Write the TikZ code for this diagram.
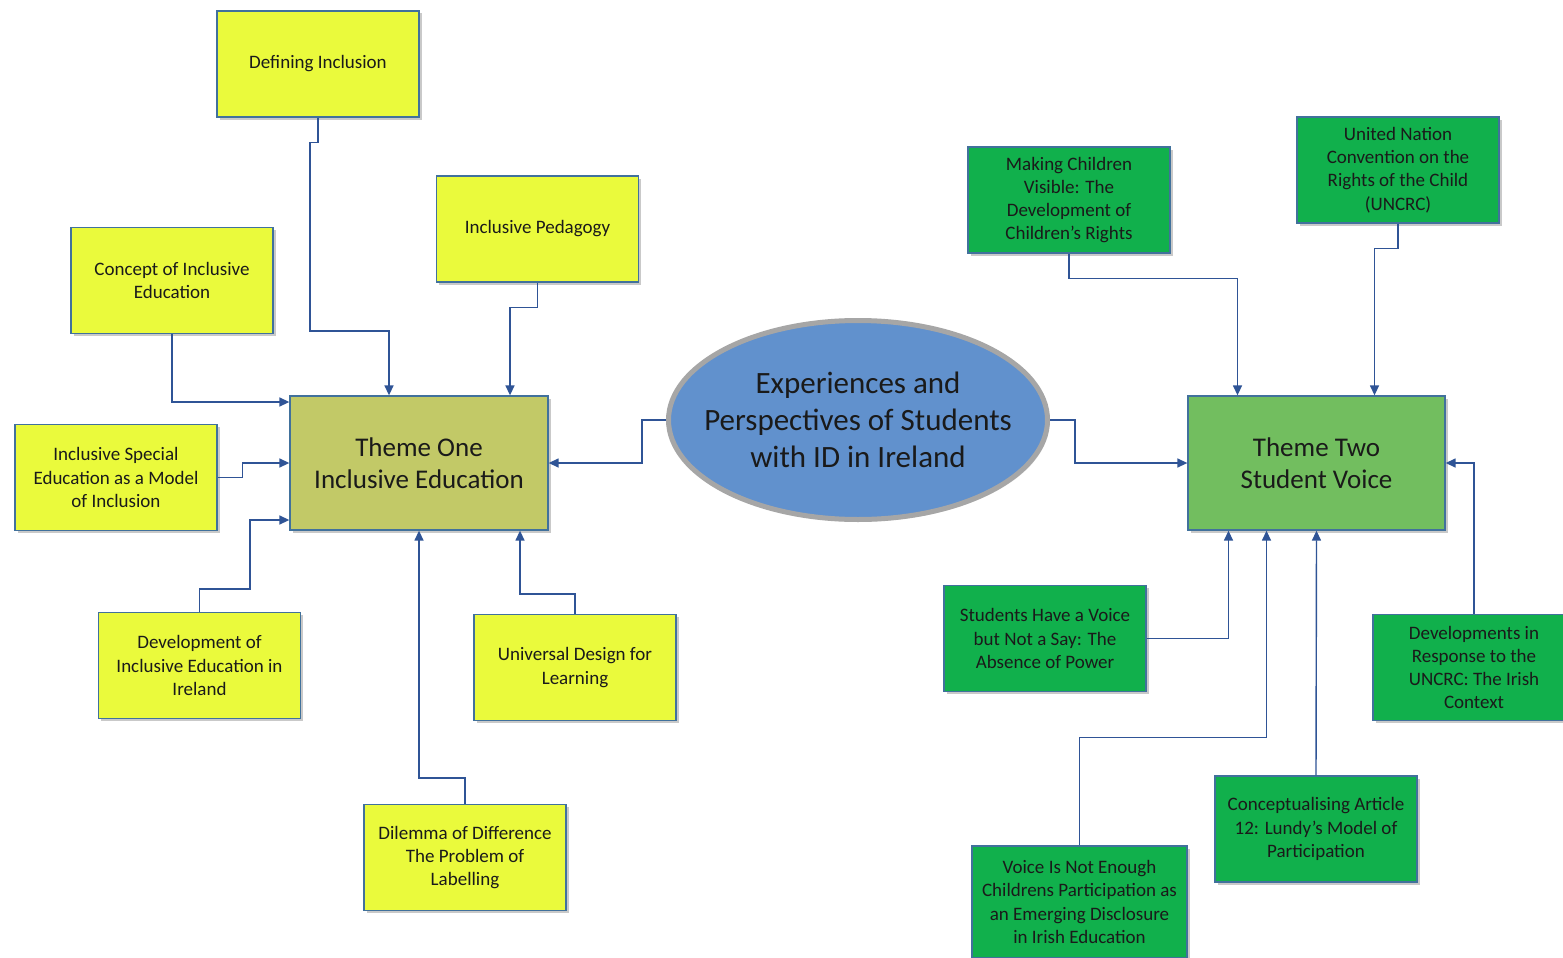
\documentclass[tikz,border=0pt]{standalone}
\usepackage{fontspec}
\setmainfont{Carlito}
\usetikzlibrary{arrows.meta,shadows,calc,shapes.geometric}

\definecolor{boxyellow}{HTML}{EAFA3C}
\definecolor{themeolive}{HTML}{C2C967}
\definecolor{themegreen}{HTML}{72BE5F}
\definecolor{boxgreen}{HTML}{11B04C}
\definecolor{ovalblue}{HTML}{6191CD}
\definecolor{ovalrim}{HTML}{A6A6A6}
\definecolor{rimblue}{HTML}{41719C}
\definecolor{linkblue}{HTML}{2F5496}
\definecolor{ink}{HTML}{1A1A1A}

\tikzset{
  base/.style={rectangle, draw=rimblue, line width=1.3pt, text=ink, align=center,
    drop shadow={shadow xshift=2.5pt, shadow yshift=-2.5pt, opacity=0.35, fill=black!60}},
  topic/.style={base, fill=boxyellow, minimum width=202pt, minimum height=106pt,
    font=\fontsize{19}{23.3}\selectfont},
  gtopic/.style={base, fill=boxgreen, minimum width=202pt, minimum height=106pt,
    font=\fontsize{19}{23.3}\selectfont},
  themebox/.style={base, minimum width=258pt, minimum height=134pt,
    font=\fontsize{27}{32}\selectfont},
  link/.style={draw=linkblue, line width=1.4pt, -{Triangle[length=10pt,width=9pt]}},
}

\begin{document}
\begin{tikzpicture}[x=1pt,y=-1pt]
\useasboundingbox (0,0) rectangle (1563,958);
\fill[white] (0,0) rectangle (1563,958);

% central topic (negative x-sep keeps the oval at its set size)
\node[ellipse, draw=ovalrim, line width=5pt, fill=ovalblue, minimum width=379pt,
  minimum height=199pt, inner xsep=-30pt, inner ysep=0pt, text=ink, align=center,
  font=\fontsize{31}{37}\selectfont,
  drop shadow={shadow xshift=2pt, shadow yshift=-2pt, opacity=0.25}]
  (ell) at (858,420) {Experiences and\\Perspectives of Students\\with ID in Ireland};

% themes
\node[themebox, fill=themeolive] (t1) at (419,463) {Theme One\\Inclusive Education};
\node[themebox, fill=themegreen, minimum width=257pt] (t2) at (1316.5,463) {Theme Two\\Student Voice};

% theme one sub-topics
\node[topic] (di) at (318,64) {Defining Inclusion};
\node[topic] (ip) at (537.5,229) {Inclusive Pedagogy};
\node[topic] (ce) at (172,280.5) {Concept of Inclusive\\Education};
\node[topic] (is) at (116,477.5) {Inclusive Special\\Education as a Model\\of Inclusion};
\node[topic] (dv) at (199.5,665.5) {Development of\\Inclusive Education in\\Ireland};
\node[topic] (ud) at (575,667.5) {Universal Design for\\Learning};
\node[topic] (dd) at (465,857.5) {Dilemma of Difference\\The Problem of\\Labelling};

% theme two sub-topics
\node[gtopic] (mc) at (1069,200) {Making Children\\Visible: The\\Development of\\Children’s Rights};
\node[gtopic] (un) at (1398,170) {United Nation\\Convention on the\\Rights of the Child\\(UNCRC)};
\node[gtopic] (sv) at (1045,638.5) {Students Have a Voice\\but Not a Say: The\\Absence of Power};
\node[gtopic] (dr) at (1474,667.5) {Developments in\\Response to the\\UNCRC: The Irish\\Context};
\node[gtopic] (ca) at (1316,829) {Conceptualising Article\\12: Lundy’s Model of\\Participation};
\node[gtopic, minimum width=215pt, minimum height=112pt] (vn) at (1079.5,902)
  {Voice Is Not Enough\\Childrens Participation as\\an Emerging Disclosure\\in Irish Education};

% connectors into theme one
\draw[link] (di.south) -- ++(0,25) -| (310,331) -| ([xshift=-30pt]t1.north);
\draw[link] (ip.south) -- ++(0,25) -| ([xshift=91pt]t1.north);
\draw[link] (ce.south) |- ([yshift=61pt]t1.west);
\draw[link] (is.east) -- ++(25,0) |- (t1.west);
\draw[link] (dv.north) -- ++(0,-23) -| (250,520) -- ([yshift=-57pt]t1.west);
\draw[link] (ud.north) -- ++(0,-20) -| ([xshift=101pt]t1.south);
\draw[link] (dd.north) -- ++(0,-26) -| (t1.south);
\draw[link] (ell.west) -- ++(-24,0) |- (t1.east);

% connectors into theme two
\draw[link] (ell.east) -- ++(25,0) |- (t2.west);
\draw[link] (mc.south) -- ++(0,25) -| ([xshift=-79pt]t2.north);
\draw[link] (un.south) -- ++(0,25) -| ([xshift=58pt]t2.north);
\draw[link] (dr.north) |- (t2.east);
\draw[link] (sv.east) -| ([xshift=-88pt]t2.south);
\draw[link] (vn.north) -- ++(0,-108) -| ([xshift=-50pt]t2.south);
\draw[link] (ca.north) -- (t2.south);
\end{tikzpicture}
\end{document}
